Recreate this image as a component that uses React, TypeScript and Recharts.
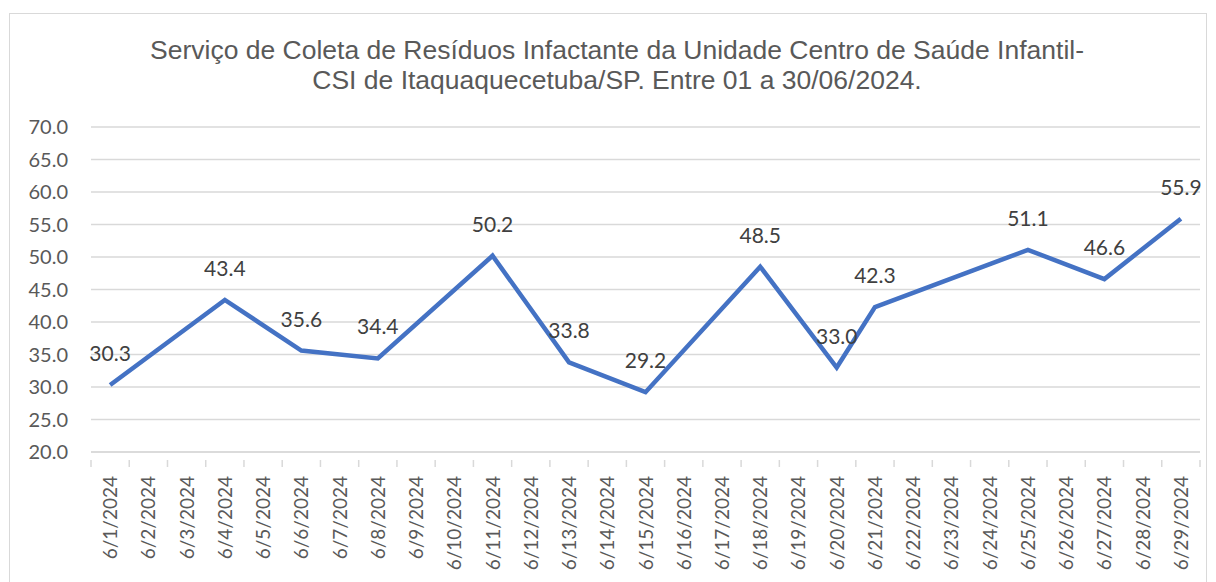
import { LineChart, Line, XAxis, YAxis, CartesianGrid, LabelList } from 'recharts';

const dias = [
  '6/1/2024', '6/2/2024', '6/3/2024', '6/4/2024', '6/5/2024', '6/6/2024', '6/7/2024',
  '6/8/2024', '6/9/2024', '6/10/2024', '6/11/2024', '6/12/2024', '6/13/2024', '6/14/2024',
  '6/15/2024', '6/16/2024', '6/17/2024', '6/18/2024', '6/19/2024', '6/20/2024', '6/21/2024',
  '6/22/2024', '6/23/2024', '6/24/2024', '6/25/2024', '6/26/2024', '6/27/2024', '6/28/2024',
  '6/29/2024',
];

// kg coletados (só nos dias de coleta)
const pesos: (number | null)[] = [
  30.3, null, null, 43.4, null, 35.6, null,
  34.4, null, null, 50.2, null, 33.8, null,
  29.2, null, null, 48.5, null, 33.0, 42.3,
  null, null, null, 51.1, null, 46.6, null,
  55.9,
];

const yTicks = [20, 25, 30, 35, 40, 45, 50, 55, 60, 65, 70];

const W = 1200;
const H = 574;
const margin = { top: 119, right: 8, bottom: 10, left: 23 };
const yAxisWidth = 60;
const plotWidth = W - margin.left - margin.right - yAxisWidth;
const halfBand = plotWidth / dias.length / 2;

const data = dias.map((d, i) => ({ dia: d, peso: pesos[i] }));

const cinza = '#595959';
const linhaGrade = '#d9d9d9';
const fonte = "Lato, 'Open Sans', sans-serif";

function DiaTick(props: any) {
  const { x, y, payload, index } = props;
  const last = index === dias.length - 1;
  return (
    <g>
      <line x1={x - halfBand} x2={x - halfBand} y1={y} y2={y + 7} stroke={linhaGrade} strokeWidth={1.5} />
      {last && <line x1={x + halfBand} x2={x + halfBand} y1={y} y2={y + 7} stroke={linhaGrade} strokeWidth={1.5} />}
      <text
        x={0}
        y={0}
        transform={`translate(${x + 7},${y + 16}) rotate(-90)`}
        textAnchor="end"
        fill={cinza}
        fontSize={19}
        fontFamily={fonte}
      >
        {payload.value}
      </text>
    </g>
  );
}

function Rotulo(props: any) {
  const { x, y, value } = props;
  if (value == null) return null;
  return (
    <text x={x} y={y - 24} textAnchor="middle" fill="#404040" fontSize={21} fontFamily={fonte}>
      {Number(value).toFixed(1)}
    </text>
  );
}

export default function App() {
  return (
    <div style={{ position: 'relative', width: W, height: H }}>
      <div
        style={{
          position: 'absolute',
          left: 1,
          top: 5,
          width: W - 2,
          height: H,
          borderTop: `1px solid ${linhaGrade}`,
          borderLeft: `1px solid ${linhaGrade}`,
          borderRight: `1px solid ${linhaGrade}`,
          boxSizing: 'border-box',
        }}
      />
      <div
        style={{
          position: 'absolute',
          left: 0,
          top: 27,
          width: 1218,
          textAlign: 'center',
          color: cinza,
          fontFamily: "'Liberation Sans', Arial, sans-serif",
          fontSize: 26.5,
          lineHeight: '30px',
        }}
      >
        Serviço de Coleta de Resíduos Infactante da Unidade Centro de Saúde Infantil-
        <br />
        CSI de Itaquaquecetuba/SP. Entre 01 a 30/06/2024.
      </div>
      <LineChart width={W} height={H} data={data} margin={margin} style={{ position: 'absolute', left: 0, top: 0 }}>
        <CartesianGrid vertical={false} stroke={linhaGrade} strokeWidth={1.5} />
        <XAxis
          dataKey="dia"
          interval={0}
          height={120}
          padding={{ left: halfBand, right: halfBand }}
          tick={<DiaTick />}
          tickLine={false}
          axisLine={{ stroke: linhaGrade, strokeWidth: 1.5 }}
        />
        <YAxis
          domain={[20, 70]}
          ticks={yTicks}
          width={yAxisWidth}
          tickFormatter={(v: number) => v.toFixed(1)}
          axisLine={false}
          tickLine={false}
          tickSize={0}
          tickMargin={23}
          tick={{ fill: cinza, fontSize: 20, fontFamily: fonte }}
        />
        <Line
          type="linear"
          dataKey="peso"
          stroke="#4472C4"
          strokeWidth={4.5}
          dot={false}
          connectNulls
          isAnimationActive={false}
        >
          <LabelList dataKey="peso" content={<Rotulo />} />
        </Line>
      </LineChart>
    </div>
  );
}
